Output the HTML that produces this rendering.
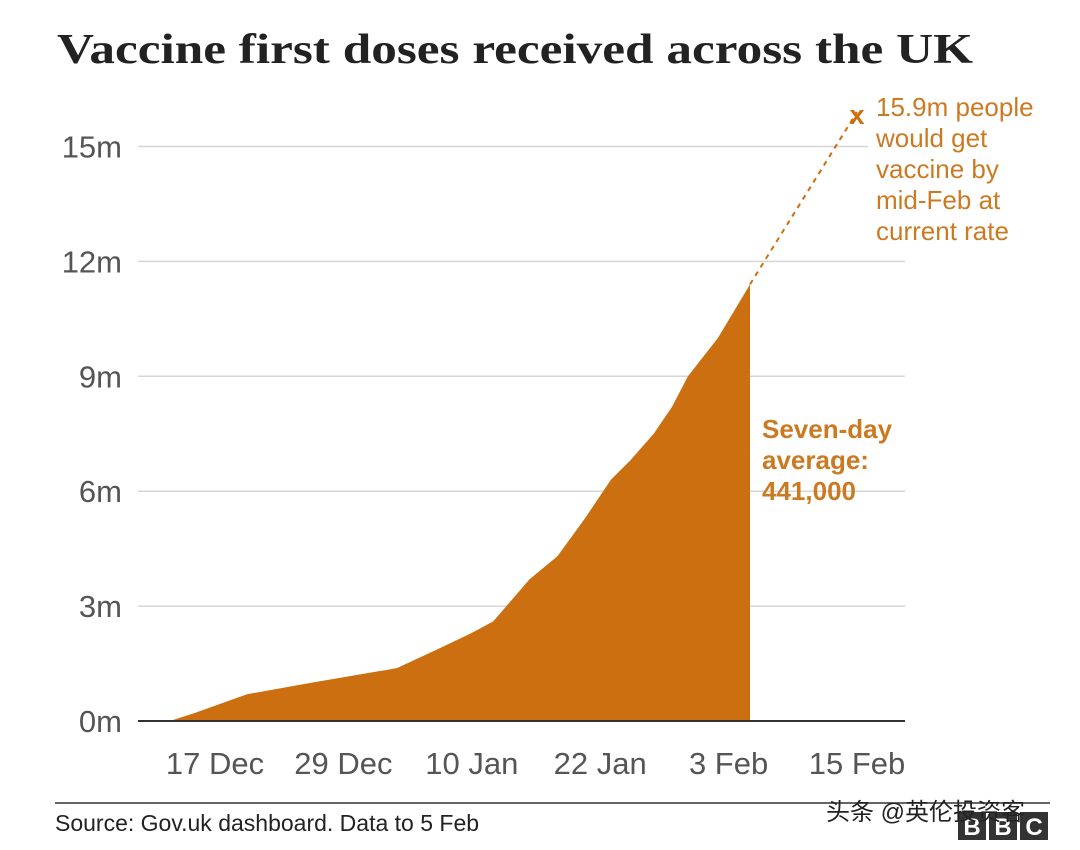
<!DOCTYPE html>
<html><head><meta charset="utf-8"><style>
html,body{margin:0;padding:0;background:#fff;}
body{width:1080px;height:850px;overflow:hidden;position:relative;font-family:"Liberation Sans",sans-serif;}
</style></head><body>
<svg id="chart" width="1080" height="850" style="position:absolute;left:0;top:0">
<text x="57" y="63" textLength="916" lengthAdjust="spacingAndGlyphs" font-family="Liberation Serif, serif" font-weight="bold" font-size="42" fill="#222">Vaccine first doses received across the UK</text>
</svg>
<script>
const yTicks=[0,3,6,9,12,15];
const yTickLabels=["0m","3m","6m","9m","12m","15m"];
const xTickDays=[0,12,24,36,48,60];
const xTickLabels=["17 Dec","29 Dec","10 Jan","22 Jan","3 Feb","15 Feb"];
// days since 17 Dec, cumulative first doses (millions)
const days=[-4,-2,3,9,17,21,24,26,29.4,32,34.6,37,38.8,41,42.7,44.2,47,50];
const doses=[0.02,0.2,0.7,1.0,1.38,1.9,2.3,2.6,3.7,4.3,5.3,6.3,6.8,7.5,8.2,9.0,10.0,11.4];
const projDay=60, projValue=15.9;

const NS="http://www.w3.org/2000/svg";
const svg=document.getElementById('chart');
const X=d=>215+d*10.7;
const Y=v=>721-v*38.3;
function mk(t,a,p){const e=document.createElementNS(NS,t);for(const k in a)e.setAttribute(k,a[k]);(p||svg).appendChild(e);return e;}

yTicks.forEach((v,i)=>{
  const g=mk('line',{x1:138,x2:v===15?868:905,y1:Y(v),y2:Y(v),stroke:'#d6d6d6','stroke-width':1.5});
  
  
  const t=mk('text',{x:122,y:Y(v)+11,'text-anchor':'end','font-size':31,fill:'#555','font-family':'Liberation Sans, sans-serif'});
  t.textContent=yTickLabels[i];
  
  
});
xTickDays.forEach((d,i)=>{
  const t=mk('text',{x:X(d),y:774,'text-anchor':'middle','font-size':31,fill:'#555','font-family':'Liberation Sans, sans-serif'});
  t.textContent=xTickLabels[i];
  
  
});
let p='M'+X(days[0])+','+Y(0);
days.forEach((d,i)=>{p+=' L'+X(d)+','+Y(doses[i]);});
p+=' L'+X(days[days.length-1])+','+Y(0)+' Z';
const area=mk('path',{d:p,fill:'#cc6f10'});


const ax=mk('line',{x1:138,x2:905,y1:Y(0),y2:Y(0),stroke:'#333','stroke-width':2});


const last=days.length-1;
const pl=mk('line',{x1:X(days[last]),y1:Y(doses[last]),x2:X(projDay),y2:Y(projValue),stroke:'#cc6f10','stroke-width':2,'stroke-dasharray':'5,5'});


const xm=mk('text',{x:X(projDay),y:Y(projValue)+12,'text-anchor':'middle','font-size':27,'font-weight':'bold',fill:'#cc6f10'});
xm.textContent='x';


["15.9m people","would get","vaccine by","mid-Feb at","current rate"].forEach((s,i)=>{
  const t=mk('text',{x:876,y:116+i*31,'font-size':26,fill:'#cc7a22'});
  t.textContent=s;
  
  
});
["Seven-day","average:","441,000"].forEach((s,i)=>{
  const t=mk('text',{x:762,y:438+i*31,'font-size':26,'font-weight':'bold',fill:'#cc7a22'});
  t.textContent=s;
  
  
});
const sl=mk('line',{x1:55,x2:1050,y1:803,y2:803,stroke:'#333','stroke-width':1.5});


const src=mk('text',{x:55,y:831,'font-size':23,fill:'#222'});
src.textContent='Source: Gov.uk dashboard. Data to 5 Feb';


['B','B','C'].forEach((c,i)=>{
  const r=mk('rect',{x:958+i*31,y:812,width:28,height:28,fill:'#333'});
  
  
  const t=mk('text',{x:972+i*31,y:835,'text-anchor':'middle','font-size':24,'font-weight':'bold',fill:'#fff'});
  t.textContent=c;
  
  
});
const wm=mk('text',{x:826,y:820,'font-size':24,fill:'#222','font-family':'Liberation Sans, Noto Sans CJK SC, sans-serif'});
wm.textContent='头条 @英伦投资客';


</script>
</body></html>
